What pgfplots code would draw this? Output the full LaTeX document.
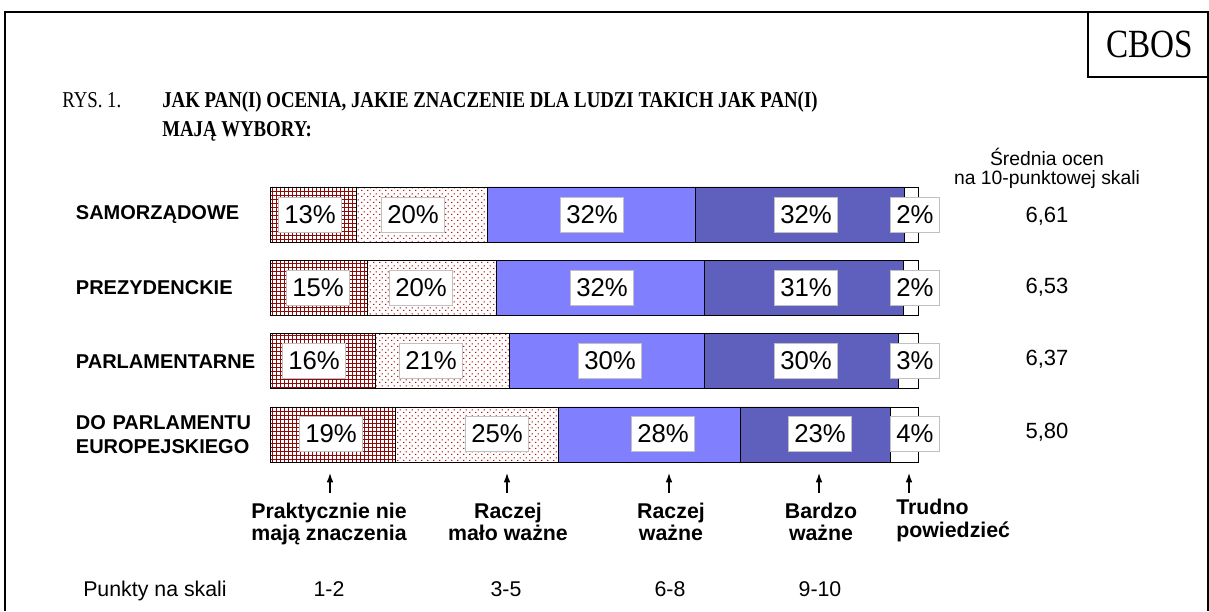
\documentclass[border=0pt]{standalone}
\usepackage{pgfplots}
\pgfplotsset{compat=1.18}
\usepackage{fontspec}
\setmainfont{Liberation Sans}
\newfontfamily\tnr{Liberation Serif}
\newfontfamily\tnrc{Liberation Serif}[FakeStretch=0.83]
\usetikzlibrary{patterns,patterns.meta,arrows.meta}
\definecolor{darkred}{RGB}{140,10,10}
\definecolor{dotred}{RGB}{180,20,20}
\definecolor{lblue}{RGB}{128,128,255}
\definecolor{dblue}{RGB}{95,95,190}
\definecolor{boxgray}{RGB}{192,192,192}
\tikzdeclarepattern{
  name=mydots, type=uncolored,
  bounding box={(0,0) and (4.5pt,4.5pt)},
  tile size={(4.5pt,4.5pt)},
  code={\fill (0.9pt,1.0pt) rectangle (2.1pt,1.8pt);
        \fill (3.15pt,3.25pt) rectangle (4.35pt,4.05pt);}
}
\newcommand{\fs}[1]{\fontsize{#1}{1.2\dimexpr#1pt\relax}\selectfont}
\begin{document}
\begin{tikzpicture}
\begin{scope}[x=0.75pt,y=-0.75pt]
\useasboundingbox (0,0) rectangle (1209,611);
% frame
\draw[line width=1.5pt] (5,611) -- (5,12) -- (1208,12) -- (1208,611);
\draw[line width=1.5pt] (1088,12) -- (1088,77) -- (1209,77);
\node[font=\tnrc\fs{30}] at (1150,44) {CBOS};
% title
\node[anchor=base west,font=\tnrc\fs{17},inner sep=0] at (62,107) {RYS. 1.};
\node[anchor=base west,font=\tnrc\bfseries\fs{17},inner sep=0] at (162,107) {JAK PAN(I) OCENIA, JAKIE ZNACZENIE DLA LUDZI TAKICH JAK PAN(I)};
\node[anchor=base west,font=\tnrc\bfseries\fs{17},inner sep=0] at (162,136) {MAJĄ WYBORY:};
% mean header
\node[anchor=base,font=\fs{14.5},inner sep=0] at (1047,165) {Średnia ocen};
\node[anchor=base,font=\fs{14.5},inner sep=0] at (1047,184) {na 10-punktowej skali};
\end{scope}
\begin{axis}[
  at={(202.5pt,-133.35pt)}, anchor=north west,
  scale only axis, width=486pt, height=220pt,
  xbar stacked, bar width=0.75, bar shift=0pt,
  xmin=0, xmax=100, ymin=0.5, ymax=4.5, y dir=reverse,
  axis line style={draw=none}, tick style={draw=none},
  xtick=\empty, ytick={1,2,3,4},
  yticklabels={SAMORZĄDOWE,PREZYDENCKIE,PARLAMENTARNE,{DO PARLAMENTU\\EUROPEJSKIEGO}},
  yticklabel style={font=\bfseries\fs{15},text width=142pt,align=left},
  clip=false,
  every axis plot/.append style={draw=black, line width=0.6pt},
]
\addplot[pattern=grid, pattern color=darkred] coordinates {(13.4,1) (15.1,2) (16.2,3) (19.3,4)};
\addplot[pattern=mydots, pattern color=dotred] coordinates {(20.1,1) (19.9,2) (20.8,3) (25.2,4)};
\addplot[fill=lblue] coordinates {(32.1,1) (32.1,2) (30.1,3) (28.1,4)};
\addplot[fill=dblue] coordinates {(32.3,1) (30.7,2) (29.9,3) (23.1,4)};
\addplot[fill=white] coordinates {(2.1,1) (2.2,2) (3.0,3) (4.3,4)};
\end{axis}
\begin{scope}[x=0.75pt,y=-0.75pt]
% bar labels
\tikzset{pl/.style={draw=boxgray, line width=1.1pt, fill=white, inner xsep=4.3pt, minimum height=26pt, font=\fs{19.3}}}
\node[pl] at (310,215) {13\%};
\node[pl] at (413,215) {20\%};
\node[pl] at (592,215) {32\%};
\node[pl] at (806,215) {32\%};
\node[pl] at (915,215) {2\%};
\node[pl] at (318,288) {15\%};
\node[pl] at (421,288) {20\%};
\node[pl] at (602,288) {32\%};
\node[pl] at (806,288) {31\%};
\node[pl] at (915,288) {2\%};
\node[pl] at (314,361) {16\%};
\node[pl] at (431,361) {21\%};
\node[pl] at (610,361) {30\%};
\node[pl] at (806,361) {30\%};
\node[pl] at (915,361) {3\%};
\node[pl] at (331,434) {19\%};
\node[pl] at (497,434) {25\%};
\node[pl] at (663,434) {28\%};
\node[pl] at (820,434) {23\%};
\node[pl] at (915,434) {4\%};
% means
\node[font=\fs{16.5}] at (1047,216) {6,61};
\node[font=\fs{16.5}] at (1047,287) {6,53};
\node[font=\fs{16.5}] at (1047,359) {6,37};
\node[font=\fs{16.5}] at (1047,432) {5,80};
% arrows
\foreach \xx in {330,507,669,819,909}
  \draw[line width=0.9pt,-{Latex[length=7pt,width=5pt]}] (\xx,493) -- (\xx,473);
% category descriptions
\tikzset{bl/.style={anchor=base,font=\bfseries\fs{16},inner sep=0}}
\node[bl] at (329,518) {Praktycznie nie};
\node[bl] at (329,540) {mają znaczenia};
\node[bl] at (508,518) {Raczej};
\node[bl] at (508,540) {mało ważne};
\node[bl] at (671,518) {Raczej};
\node[bl] at (671,540) {ważne};
\node[bl] at (821,518) {Bardzo};
\node[bl] at (821,540) {ważne};
\node[bl,anchor=base west] at (896,514) {Trudno};
\node[bl,anchor=base west] at (896,537) {powiedzieć};
% scale points
\tikzset{pn/.style={anchor=base,font=\fs{16},inner sep=0}}
\node[pn,anchor=base west] at (83,596) {Punkty na skali};
\node[pn] at (329,596) {1-2};
\node[pn] at (506,596) {3-5};
\node[pn] at (670,596) {6-8};
\node[pn] at (820,596) {9-10};
\end{scope}
\end{tikzpicture}
\end{document}
